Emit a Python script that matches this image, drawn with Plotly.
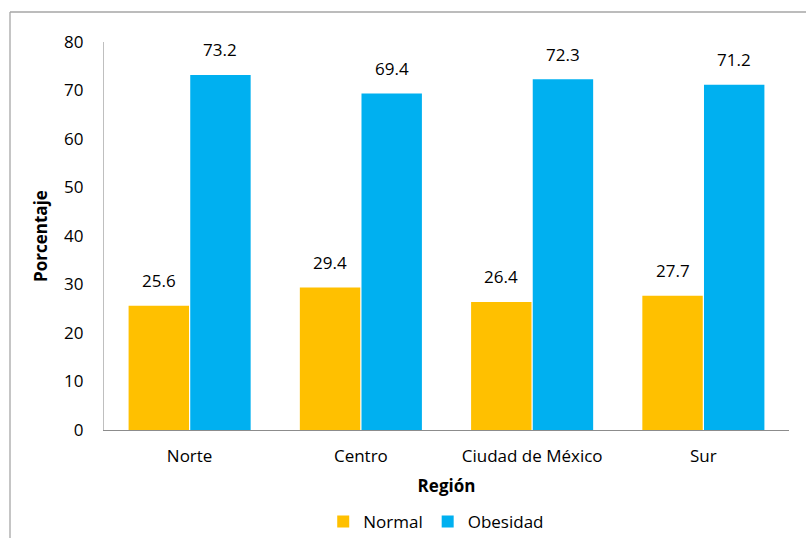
import plotly.graph_objects as go

regions = ["Norte", "Centro", "Ciudad de México", "Sur"]
normal = [25.6, 29.4, 26.4, 27.7]
obesidad = [73.2, 69.4, 72.3, 71.2]

FONT = "Open Sans"
FS = 17
L, R, T, B = 104, 17, 42, 108
W, H = 806, 538
pw = W - L - R
ph = H - T - B

fig = go.Figure()
fig.add_trace(go.Bar(name="Normal", x=regions, y=normal, marker=dict(color="#FFC000", line=dict(width=0))))
fig.add_trace(go.Bar(name="Obesidad", x=regions, y=obesidad, marker=dict(color="#00B0F0", line=dict(width=0))))

bargap = 0.28
bargroupgap = 0.02
cat_w = pw / len(regions)
bar_w = cat_w * (1 - bargap) / 2
annotations = []
for vals, sh in ((normal, -bar_w / 2), (obesidad, bar_w / 2)):
    for r, v in zip(regions, vals):
        annotations.append(dict(x=r, y=v, xref="x", yref="y", text=f"{v:.1f}", showarrow=False,
                                xshift=sh, yshift=25, font=dict(family=FONT, size=FS, color="#000")))

# outer frame (partially cropped)
fx0 = (10 - L) / pw
fy0 = (H - B - 12) / ph
fy1 = (H - B - H - 5) / ph
fx1 = (W + 5 - L) / pw
shapes = [
    dict(type="line", xref="paper", yref="paper", x0=fx0, x1=fx0, y0=fy1, y1=fy0, line=dict(color="#A6A6A6", width=1.3)),
    dict(type="line", xref="paper", yref="paper", x0=fx0, x1=fx1, y0=fy0, y1=fy0, line=dict(color="#A6A6A6", width=1.3)),
]

fig.update_layout(
    width=W, height=H, margin=dict(l=L, r=R, t=T, b=B, autoexpand=False),
    paper_bgcolor="white", plot_bgcolor="white",
    barmode="group", bargap=bargap, bargroupgap=bargroupgap,
    font=dict(family=FONT, size=FS, color="#000"),
    annotations=annotations, shapes=shapes,
    showlegend=True,
    legend=dict(orientation="h", x=0.485, xanchor="center", y=(H - B - 504) / ph, yanchor="top",
                font=dict(family=FONT, size=FS), itemwidth=30, traceorder="normal",
                tracegroupgap=0),
    xaxis=dict(showline=True, linecolor="#8C8C8C", linewidth=1.3, ticks="", showgrid=False,
               tickfont=dict(family=FONT, size=FS), automargin=False, ticklabelstandoff=10,
               title=dict(text="<b>Región</b>", font=dict(family=FONT, size=FS), standoff=14)),
    yaxis=dict(range=[0, 80], dtick=10, showline=True, linecolor="#BFBFBF", linewidth=1.3,
               ticks="", showgrid=False, zeroline=False, tickfont=dict(family=FONT, size=FS),
               ticklabelstandoff=16, automargin=False,
               title=dict(text="<b>Porcentaje</b>", font=dict(family=FONT, size=FS), standoff=12)),
)

fig.write_html("out.html")
